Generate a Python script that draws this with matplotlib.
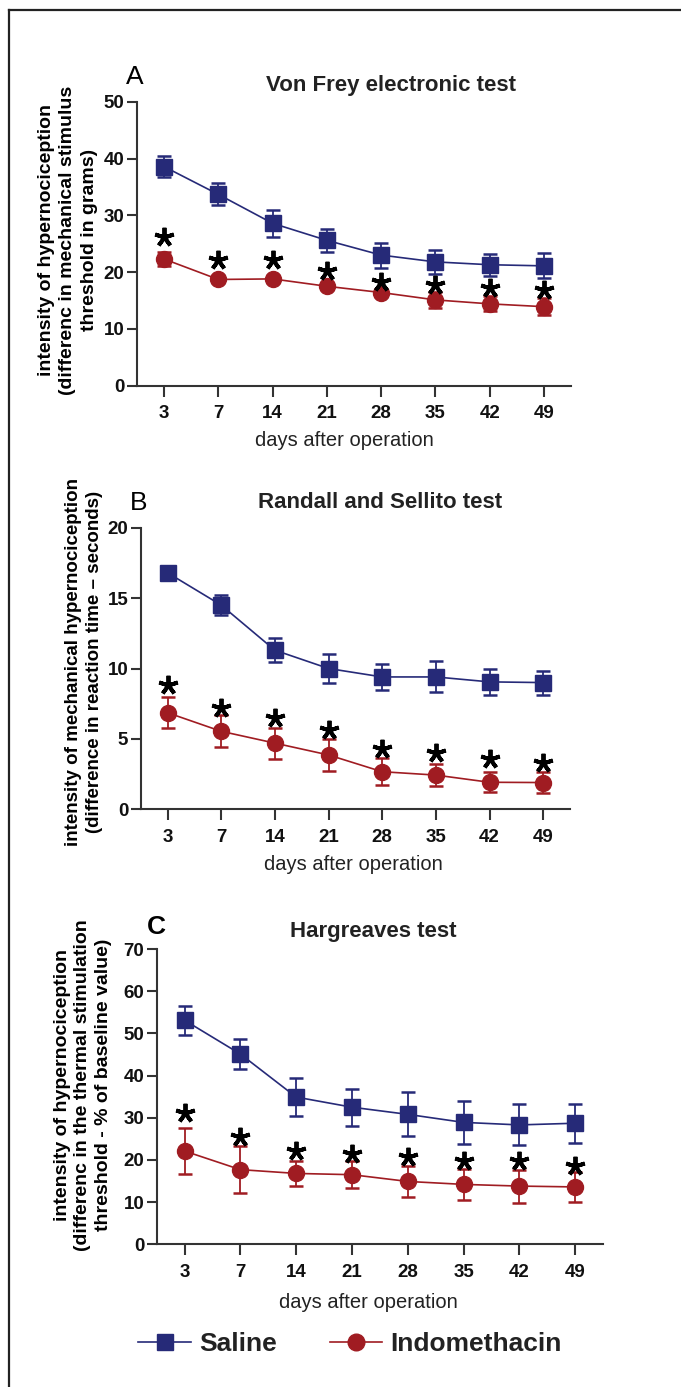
import numpy as np
import matplotlib
matplotlib.use("Agg")
import matplotlib.pyplot as plt
from matplotlib.lines import Line2D

# days after operation (categorical ticks)
days = ["3", "7", "14", "21", "28", "35", "42", "49"]

# A - Von Frey electronic test
vf_saline = [38.6, 33.7, 28.6, 25.6, 23.0, 21.8, 21.3, 21.1]
vf_saline_err = [1.8, 1.95, 2.4, 2.0, 2.2, 2.1, 1.9, 2.2]
vf_indo = [22.3, 18.7, 18.8, 17.5, 16.4, 15.1, 14.4, 13.9]
vf_indo_err = [1.2, 0.3, 0.3, 0.4, 0.5, 1.35, 1.3, 1.45]
vf_stars = [26.2, 22.1, 22.2, 20.2, 18.3, 17.7, 17.2, 16.8]

# B - Randall and Sellito test
rs_saline = [16.8, 14.5, 11.3, 10.0, 9.4, 9.4, 9.05, 9.0]
rs_saline_err = [0.4, 0.7, 0.85, 1.0, 0.95, 1.1, 0.9, 0.85]
rs_indo = [6.86, 5.54, 4.7, 3.86, 2.67, 2.43, 1.92, 1.9]
rs_indo_err = [1.1, 1.15, 1.1, 1.15, 0.95, 0.8, 0.7, 0.75]
rs_stars = [8.8, 7.2, 6.5, 5.6, 4.3, 4.0, 3.55, 3.27]

# C - Hargreaves test
hg_saline = [53.1, 45.1, 34.9, 32.5, 30.8, 28.9, 28.3, 28.7]
hg_saline_err = [3.4, 3.5, 4.5, 4.4, 5.2, 5.1, 4.85, 4.6]
hg_indo = [22.1, 17.7, 16.8, 16.5, 14.9, 14.2, 13.8, 13.6]
hg_indo_err = [5.55, 5.55, 3.0, 3.2, 3.7, 3.7, 3.9, 3.65]
hg_stars = [31.1, 25.4, 22.0, 21.5, 20.8, 19.7, 19.7, 18.6]

navy = "#262a78"
red = "#a01c22"
axcol = "#333333"
narrow = ["Liberation Sans Narrow", "Liberation Sans", "DejaVu Sans"]
wide = ["Liberation Sans", "DejaVu Sans"]

W, H = 681, 1387
fig = plt.figure(figsize=(W / 100, H / 100), dpi=100)


def fx(px):
    return px / W


def fy(py):
    return 1 - py / H


def panel(rect, sal, sal_err, ind, ind_err, stars, ymax, ystep):
    ax = fig.add_axes(rect)
    x = np.arange(len(days))
    ax.errorbar(x, sal, yerr=sal_err, color=navy, marker="s", ms=11.5,
                lw=1.2, capsize=5.3, capthick=1.8, elinewidth=1.3, zorder=3)
    ax.errorbar(x, ind, yerr=ind_err, color=red, marker="o", ms=11.5,
                lw=1.2, capsize=5.3, capthick=1.8, elinewidth=1.3, zorder=3)
    ax.plot(x, stars, ls="none", marker=(5, 2, 0), ms=14, mew=2.8,
            color="black", zorder=4)
    ax.set_xlim(-0.5, len(days) - 0.5)
    ax.set_ylim(0, ymax)
    ax.set_yticks(np.arange(0, ymax + 0.1, ystep))
    ax.set_xticks(x)
    ax.set_xticklabels(days)
    for s in ["top", "right"]:
        ax.spines[s].set_visible(False)
    for s in ["left", "bottom"]:
        ax.spines[s].set_linewidth(1.5)
        ax.spines[s].set_color(axcol)
    ax.tick_params(axis="both", width=1.5, color=axcol, length=7)
    ax.tick_params(axis="x", length=8, pad=6)
    ax.tick_params(axis="y", pad=2)
    for lab in ax.get_xticklabels() + ax.get_yticklabels():
        lab.set_fontfamily(narrow)
        lab.set_fontweight("bold")
        lab.set_fontsize(13.5)
        lab.set_color("#111111")
    return ax


# panel A
panel([fx(137), fy(385.5), fx(571 - 137), (385.5 - 102) / H],
      vf_saline, vf_saline_err, vf_indo, vf_indo_err, vf_stars, 50, 10)
fig.text(fx(135), fy(77), "A", fontsize=19, family=wide, ha="center", va="center")
fig.text(fx(391), fy(85), "Von Frey electronic test", fontsize=16, family=narrow,
         weight="bold", ha="center", va="center", color="#222222")
fig.text(fx(344), fy(440), "days after operation", fontsize=14.5, family=narrow,
         ha="center", va="center", color="#222222")
fig.text(fx(68), fy(240),
         "intensity of hypernociception\n(differenc in mechanical stimulus\nthreshold in grams)",
         rotation=90, fontsize=14, family=wide, weight="bold", ha="center",
         va="center", multialignment="center", linespacing=1.32)

# panel B
panel([fx(140.7), fy(809.3), fx(570 - 140.7), (809.3 - 527.7) / H],
      rs_saline, rs_saline_err, rs_indo, rs_indo_err, rs_stars, 20, 5)
fig.text(fx(139), fy(503), "B", fontsize=19, family=wide, ha="center", va="center")
fig.text(fx(380), fy(503), "Randall and Sellito test", fontsize=16, family=narrow,
         weight="bold", ha="center", va="center", color="#222222")
fig.text(fx(353), fy(865), "days after operation", fontsize=14.5, family=narrow,
         ha="center", va="center", color="#222222")
fig.text(fx(84), fy(662),
         "intensity of mechanical hypernociception\n(difference in reaction time \u2013 seconds)",
         rotation=90, fontsize=13.5, family=wide, weight="bold", ha="center",
         va="center", multialignment="center", linespacing=1.32)

# panel C
panel([fx(156.7), fy(1244.3), fx(603 - 156.7), (1244.3 - 949) / H],
      hg_saline, hg_saline_err, hg_indo, hg_indo_err, hg_stars, 70, 10)
fig.text(fx(156), fy(927), "C", fontsize=19, family=wide, weight="bold",
         ha="center", va="center")
fig.text(fx(373), fy(931), "Hargreaves test", fontsize=16, family=narrow,
         weight="bold", ha="center", va="center", color="#222222")
fig.text(fx(368), fy(1303), "days after operation", fontsize=14.5, family=narrow,
         ha="center", va="center", color="#222222")
fig.text(fx(83), fy(1085),
         "intensity of hypernociception\n(differenc in the thermal stimulation\nthreshold - % of baseline value)",
         rotation=90, fontsize=14, family=wide, weight="bold", ha="center",
         va="center", multialignment="center", linespacing=1.28)

# legend
handles = [
    Line2D([], [], color=navy, marker="s", ms=12, lw=1.2, label="Saline"),
    Line2D([], [], color=red, marker="o", ms=12, lw=1.2, label="Indomethacin"),
]
leg = fig.legend(handles=handles, loc="center", bbox_to_anchor=(fx(350), fy(1344)),
                 ncol=2, frameon=False, handlelength=2.0, handletextpad=0.3,
                 columnspacing=2.0, prop={"family": narrow, "weight": "bold", "size": 19})
for t in leg.get_texts():
    t.set_color("#222222")

# outer frame (top and left edges)
fig.add_artist(Line2D([fx(9), 1], [fy(9.5), fy(9.5)], color="#222222", lw=1.6))
fig.add_artist(Line2D([fx(9), fx(9)], [fy(9.5), 0], color="#222222", lw=1.6))

fig.savefig("out.png", dpi=100)
